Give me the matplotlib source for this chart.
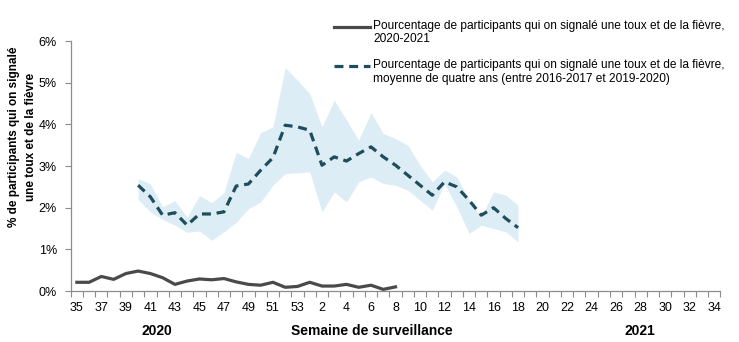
import matplotlib

matplotlib.use("Agg")
import matplotlib.pyplot as plt
from matplotlib.lines import Line2D
from matplotlib.ticker import FixedLocator, FuncFormatter

plt.rcParams["font.family"] = ["Liberation Sans", "DejaVu Sans"]

# surveillance weeks: 35-53 of 2020, then 1-34 of 2021
weeks = list(range(35, 54)) + list(range(1, 35))

# % reporting cough and fever, 2020-2021 season (weeks 35 -> 8)
current_season = [
    0.21, 0.21, 0.35, 0.28, 0.42, 0.48, 0.42, 0.32, 0.16, 0.24,
    0.29, 0.27, 0.30, 0.22, 0.16, 0.14, 0.21, 0.09, 0.11, 0.21,
    0.12, 0.12, 0.16, 0.09, 0.14, 0.04, 0.10,
]

# four-season average (2016-2017 to 2019-2020), weeks 40 -> 18
avg_start_week = 40
four_year_avg = [
    2.54, 2.26, 1.82, 1.88, 1.58, 1.85, 1.85, 1.90, 2.52, 2.57,
    2.90, 3.20, 3.98, 3.94, 3.86, 3.02, 3.22, 3.12, 3.30, 3.46,
    3.22, 3.02, 2.78, 2.54, 2.30, 2.62, 2.50, 2.18, 1.82, 2.00,
    1.74, 1.52,
]
range_low = [
    2.20, 1.90, 1.72, 1.58, 1.41, 1.44, 1.22, 1.42, 1.65, 1.98,
    2.14, 2.54, 2.82, 2.84, 2.86, 1.90, 2.38, 2.14, 2.62, 2.74,
    2.58, 2.54, 2.42, 2.18, 1.94, 2.58, 2.02, 1.38, 1.58, 1.50,
    1.42, 1.18,
]
range_high = [
    2.70, 2.57, 2.02, 2.17, 1.77, 2.29, 2.12, 2.36, 3.33, 3.18,
    3.80, 3.94, 5.36, 5.06, 4.74, 3.94, 4.58, 4.10, 3.62, 4.28,
    3.78, 3.66, 3.50, 3.02, 2.62, 2.90, 2.74, 2.18, 1.78, 2.38,
    2.30, 2.06,
]

y_ticks = [0, 1, 2, 3, 4, 5, 6]

legend_labels = [
    "Pourcentage de participants qui on signalé une toux et de la fièvre,\n2020-2021",
    "Pourcentage de participants qui on signalé une toux et de la fièvre,\n"
    "moyenne de quatre ans (entre 2016-2017 et 2019-2020)",
]

AXIS_GREY = "#8c8c8c"
LINE_GREY = "#4a4a4a"
TEAL = "#1f4d5c"
BAND = "#dcedf5"
DASHES = (2.8, 1.8)

W, H = 739, 342
fig = plt.figure(figsize=(W / 100, H / 100), dpi=100)
ax = fig.add_axes([0.0957, 0.149, 0.879, 0.731])

x_cur = list(range(len(current_season)))
offset = weeks.index(avg_start_week)
x_avg = [offset + i for i in range(len(four_year_avg))]

ax.fill_between(x_avg, range_low, range_high, color=BAND, linewidth=0, zorder=1)
ax.plot(x_avg, four_year_avg, color=TEAL, linewidth=2.3, dashes=DASHES, zorder=3)
ax.plot(x_cur, current_season, color=LINE_GREY, linewidth=2.3, zorder=4)

ax.set_xlim(-0.5, len(weeks) - 0.5)
ax.set_ylim(0, 6)

# labels on every other week, tick marks on category boundaries
label_pos = list(range(0, len(weeks), 2))
ax.xaxis.set_major_locator(FixedLocator(label_pos))
ax.set_xticklabels([str(weeks[i]) for i in label_pos])
ax.xaxis.set_minor_locator(FixedLocator([i - 0.5 for i in range(len(weeks) + 1)]))
ax.tick_params(axis="x", which="major", length=0, pad=8, labelsize=9, labelcolor="black")
ax.tick_params(axis="x", which="minor", length=4, width=0.8, color=AXIS_GREY, direction="out")

ax.set_yticks(y_ticks)
ax.yaxis.set_major_formatter(FuncFormatter(lambda v, _: f"{v:.0f}%"))
ax.tick_params(axis="y", length=4, width=0.8, color=AXIS_GREY, pad=6, labelsize=9)

for side in ("top", "right"):
    ax.spines[side].set_visible(False)
for side in ("left", "bottom"):
    ax.spines[side].set_color(AXIS_GREY)
    ax.spines[side].set_linewidth(0.9)

fig.text(22.5 / W, 1 - 137 / H, "% de participants qui on signalé\nune toux et de la fièvre",
         rotation=90, ha="center", va="center", fontsize=8.5, fontweight="bold",
         linespacing=1.45)

for x_px, txt in ((156.7, "2020"), (371.5, "Semaine de surveillance"), (640, "2021")):
    fig.text(x_px / W, 1 - 331 / H, txt, ha="center", va="center",
             fontsize=10, fontweight="bold")

# legend: sample line beside the first line of each two-line label
legend_styles = [
    dict(color=LINE_GREY, linewidth=2.3),
    dict(color=TEAL, linewidth=2.3, dashes=DASHES),
]
for row, (label, style) in enumerate(zip(legend_labels, legend_styles)):
    y_px = 26.5 + 39.3 * row
    fig.add_artist(Line2D([334 / W, 370 / W], [1 - y_px / H] * 2,
                          transform=fig.transFigure, **style))
    fig.text(373 / W, 1 - (y_px - 7) / H, label, ha="left", va="top",
             fontsize=8.6, linespacing=1.2)

fig.savefig("out.png", dpi=100)
plt.close(fig)
